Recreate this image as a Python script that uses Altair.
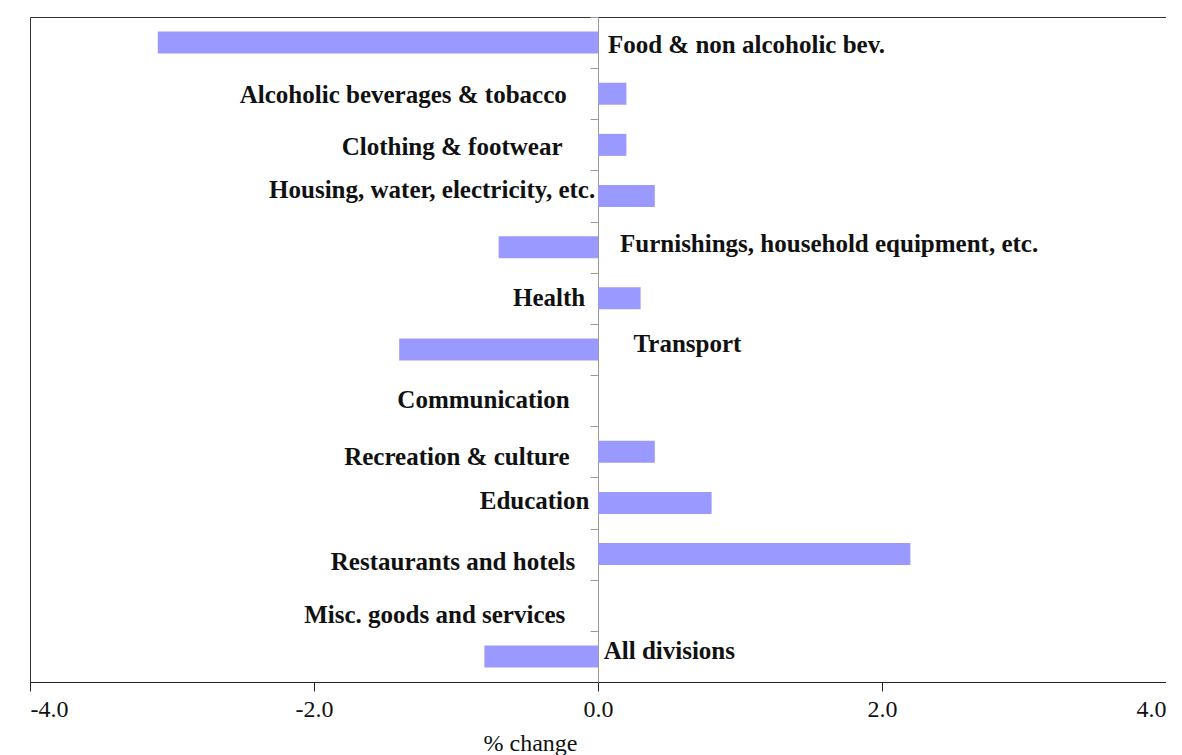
import altair as alt
import pandas as pd

categories = [
    "Food & non alcoholic bev.",
    "Alcoholic beverages & tobacco",
    "Clothing & footwear",
    "Housing, water, electricity, etc.",
    "Furnishings, household equipment, etc.",
    "Health",
    "Transport",
    "Communication",
    "Recreation & culture",
    "Education",
    "Restaurants and hotels",
    "Misc. goods and services",
    "All divisions",
]
labels = [
    "Food & non alcoholic bev.",
    "Alcoholic beverages & tobacco",
    "Clothing & footwear",
    "Housing, water, electricity, etc.",
    "Furnishings,  household equipment, etc.",
    "Health",
    "Transport",
    "Communication",
    "Recreation  & culture",
    "Education",
    "Restaurants and hotels",
    "Misc. goods and services",
    "All divisions",
]
values = [-3.1, 0.2, 0.2, 0.4, -0.7, 0.3, -1.4, 0.0, 0.4, 0.8, 2.2, 0.0, -0.8]

# label anchor (data units), side and vertical nudge
label_x = [0.07, -0.22, -0.25, -0.02, 0.155, -0.09, 0.25, -0.2, -0.2, -0.06, -0.16, -0.23, 0.04]
label_side = ["left", "right", "right", "right", "left", "right", "left",
              "right", "right", "right", "right", "right", "left"]
label_dy = [2, 1, 2, -6, -3, 0, -6, -1, 5, -2, 8, 10, -5]

df = pd.DataFrame({
    "cat": categories,
    "label": labels,
    "value": values,
    "lx": label_x,
    "side": label_side,
    "dy": label_dy,
})

FONT = "Liberation Serif"

y_scale = alt.Scale(paddingInner=0.57, paddingOuter=0.285)
y_axis = alt.Axis(
    labels=False, title=None, offset=-568, tickOffset=-25.58,
    domainColor="#9a9a9a", tickColor="#9a9a9a", tickSize=8, grid=False,
)

x_scale = alt.Scale(domain=[-4, 4], nice=False)
x_axis = alt.Axis(
    values=[-4, -2, 0, 2, 4], format=".1f", title="% change",
    labelExpr="replace(datum.label, '\u2212', '-')",
    titleX=500, titlePadding=10,
    domainColor="#222", tickColor="#222", tickSize=9, labelPadding=6,
    grid=False,
)

bars = alt.Chart(df).mark_bar(color="#9999FF").encode(
    x=alt.X("value:Q", scale=x_scale, axis=x_axis, title="% change"),
    y=alt.Y("cat:N", sort=categories, scale=y_scale, axis=y_axis),
)

text_common = dict(font=FONT, fontSize=25, fontWeight="bold", color="#111", baseline="middle")

def text_layer(side):
    return alt.Chart(df).transform_filter(alt.datum.side == side).transform_calculate(
        off="datum.dy + 11"
    ).mark_text(align=side, **text_common).encode(
        x=alt.X("lx:Q", scale=x_scale, axis=x_axis, title="% change"),
        y=alt.Y("cat:N", sort=categories, scale=y_scale, axis=y_axis),
        yOffset=alt.YOffset("off:Q", scale=None),
        text="label:N",
    )

chart = alt.layer(bars, text_layer("left"), text_layer("right")).properties(
    width=1136, height=665,
    background="white",
    autosize=alt.AutoSizeParams(type="none"),
    padding={"left": 22, "top": 9, "right": 0, "bottom": 80},
).configure_view(stroke="#333", strokeWidth=1).configure_axis(
    labelFont=FONT, labelFontSize=24, labelColor="#111",
    titleFont=FONT, titleFontSize=24, titleFontWeight="normal", titleColor="#111",
)

chart.save("out.html", embed_options={"renderer": "svg", "actions": False})
